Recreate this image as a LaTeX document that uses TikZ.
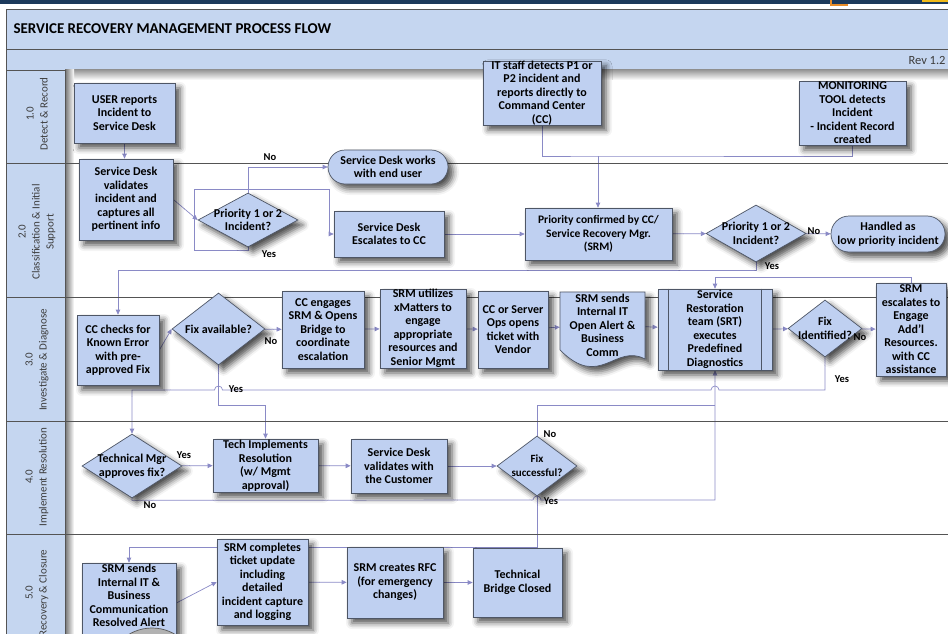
\documentclass[tikz,border=0pt]{standalone}
\usepackage{fontspec}
\setmainfont{Carlito}
\usetikzlibrary{positioning,arrows.meta,calc,shapes.geometric,shadows.blur}
\definecolor{boxblue}{RGB}{191,208,241}
\definecolor{headblue}{RGB}{197,214,240}
\definecolor{boxedge}{RGB}{78,86,102}
\definecolor{flowline}{RGB}{138,138,198}
\definecolor{laneline}{RGB}{84,84,84}
\definecolor{lanetext}{RGB}{60,60,60}
\definecolor{topband}{RGB}{28,58,92}
\definecolor{logoorange}{RGB}{232,140,40}
\newcommand{\boxfont}{\bfseries\fontsize{12}{13.5}\selectfont}
\newcommand{\ansfont}{\bfseries\fontsize{10.5}{12}\selectfont}
\newcommand{\lanefont}{\fontsize{11}{14}\selectfont}
\pgfdeclarelayer{links}
\pgfsetlayers{links,main}

\begin{document}
\begin{tikzpicture}[x=1pt,y=-1pt,
  plain/.style={font=\boxfont, align=center, inner sep=0pt},
  proc/.style={plain, draw=boxedge, fill=boxblue, line width=0.7pt,
    blur shadow={shadow xshift=5pt, shadow yshift=-5pt, shadow blur radius=6pt, shadow opacity=70}},
  term/.style={proc, rounded corners=#1},
  decision/.style={proc, diamond, inner sep=-20pt},
  flow/.style={draw=flowline, line width=0.7pt, -{Triangle[length=5pt,width=4.5pt]}},
  link/.style={draw=flowline, line width=0.7pt},
  ans/.style={font=\ansfont, inner sep=1pt},
  lanecell/.style={draw=laneline, fill=headblue, line width=0.7pt},
  lanelabel/.style={font=\lanefont, text=lanetext, align=center, rotate=90}]
\useasboundingbox (0,0) rectangle (948,634);

% Lanes
\fill[topband] (0,0) rectangle (948,4);
\draw[logoorange, line width=2pt] (831,0) -- (831,5) -- (848,5);
\fill[logoorange!60!yellow] (922,0) rectangle (948,2.5);
\draw[lanecell] (6,9) rectangle (952,49);
\draw[lanecell] (6,49) rectangle (952,70);
\node[anchor=west, font=\bfseries\fontsize{15}{17}\selectfont] (title) at (10,29) {SERVICE RECOVERY MANAGEMENT PROCESS FLOW};
\node[anchor=west, font=\fontsize{12.5}{14}\selectfont, text=lanetext] (rev) at (905,60) {Rev 1.2};
\shade[top color=black!40, bottom color=white] (65,70) rectangle (948,80);
\shade[left color=black!55, right color=white] (65,70) rectangle (74,634);
\foreach \top/\bot in {70/163,163/297,297/421,421/534,534/640}
  \draw[lanecell] (6,\top) rectangle (65,\bot);
\foreach \y in {163,297,421,534}
  \draw[laneline, line width=0.8pt] (65,\y) -- (948,\y);
\begin{scope}
\clip (6,70) rectangle (65,163);
\node[lanelabel] (lane1) at (37,114) {1.0\\Detect \& Record};
\end{scope}
\begin{scope}
\clip (6,163) rectangle (65,297);
\node[lanelabel] (lane2) at (37,232) {2.0\\Classification \& Initial\\Support};
\end{scope}
\begin{scope}
\clip (6,297) rectangle (65,421);
\node[lanelabel] (lane3) at (37,360) {3.0\\Investigate \& Diagnose};
\end{scope}
\begin{scope}
\clip (6,421) rectangle (65,534);
\node[lanelabel] (lane4) at (37,477) {4.0\\Implement Resolution};
\end{scope}
\begin{scope}
\clip (6,534) rectangle (65,634);
\node[lanelabel] (lane5) at (37,593) {5.0\\Recovery \& Closure};
\end{scope}

% Detect & Record
\node[proc, minimum width=101pt, minimum height=60pt] (user) at (124.5,113) {USER reports\\Incident to\\Service Desk};
\node[proc, minimum width=118pt, minimum height=64pt] (itstaff) at (542,93) {IT staff detects P1 or\\P2 incident and\\reports directly to\\Command Center\\(CC)};
\node[proc, minimum width=107pt, minimum height=64pt] (montool) at (852.5,113) {MONITORING\\TOOL detects\\Incident\\- Incident Record\\created};

% Classification & Initial Support
\node[proc, minimum width=94pt, minimum height=81pt] (sdval) at (126,199.5) {Service Desk\\validates\\incident and\\captures all\\pertinent info};
\node[decision, minimum width=100pt, minimum height=54pt] (prio1) at (248,220) {Priority 1 or 2\\Incident?};
\node[term=17pt, minimum width=120pt, minimum height=34pt] (sdworks) at (388,167) {Service Desk works\\with end user};
\node[proc, minimum width=110pt, minimum height=46pt] (sdesc) at (389,234) {Service Desk\\Escalates to CC};
\node[proc, minimum width=147pt, minimum height=52pt, font=\bfseries\fontsize{11.5}{13.5}\selectfont] (prioconf) at (598.5,234) {Priority confirmed by CC/\\Service Recovery Mgr.\\(SRM)};
\node[decision, minimum width=100pt, minimum height=57pt] (prio2) at (756,233.5) {Priority 1 or 2\\Incident?};
\node[term=18pt, minimum width=114pt, minimum height=36pt] (lowprio) at (888,234) {Handled as\\low priority incident};

% Investigate & Diagnose
\node[proc, minimum width=82pt, minimum height=70pt] (cccheck) at (118,350) {CC checks for\\Known Error\\with pre-\\approved Fix};
\node[decision, minimum width=93pt, minimum height=72pt] (fixavail) at (218.5,329) {Fix available?};
\node[proc, minimum width=82pt, minimum height=77pt] (ccengage) at (323,329.5) {CC engages\\SRM \& Opens\\Bridge to\\coordinate\\escalation};
\node[proc, minimum width=86pt, minimum height=79pt] (srmxm) at (423,328.5) {SRM utilizes\\xMatters to\\engage\\appropriate\\resources and\\Senior Mgmt};
\node[proc, minimum width=70pt, minimum height=77pt] (ccserver) at (513,329.5) {CC or Server\\Ops opens\\ticket with\\Vendor};
\coordinate (docc) at (602.5,330);
\draw[draw=boxedge, fill=boxblue, line width=0.7pt,
    blur shadow={shadow xshift=5pt, shadow yshift=-5pt, shadow blur radius=6pt, shadow opacity=70}]
  ($(docc)+(-42.5,-38)$) -- ($(docc)+(42.5,-38)$) -- ($(docc)+(42.5,29)$)
  .. controls ($(docc)+(12.5,13)$) and ($(docc)+(-2.5,60)$) .. ($(docc)+(-42.5,20)$) -- cycle;
\node[plain, minimum width=85pt, minimum height=76pt] (srmsends) at (602.5,325) {SRM sends\\Internal IT\\Open Alert \&\\Business\\Comm};
\node[proc, minimum width=114pt, minimum height=81pt] (srt) at (715,329.5) {Service\\Restoration\\team (SRT)\\executes\\Predefined\\Diagnostics};
\draw[boxedge, line width=0.7pt] ([xshift=11pt]srt.north west) -- ([xshift=11pt]srt.south west);
\draw[boxedge, line width=0.7pt] ([xshift=-11pt]srt.north east) -- ([xshift=-11pt]srt.south east);
\node[decision, minimum width=74pt, minimum height=57pt] (fixid) at (825,328.5) {Fix\\Identified?};
\node[proc, minimum width=70pt, minimum height=93pt] (srmesc) at (911,329.5) {SRM\\escalates to\\Engage\\Add’l\\Resources.\\with CC\\assistance};

% Implement Resolution
\node[decision, minimum width=100pt, minimum height=64pt] (techmgr) at (132,466) {Technical Mgr\\approves fix?};
\node[proc, minimum width=105pt, minimum height=53pt] (techimpl) at (265.5,465.5) {Tech Implements\\Resolution\\(w/ Mgmt\\approval)};
\node[proc, minimum width=96pt, minimum height=54pt] (sdcust) at (399,466) {Service Desk\\validates with\\the Customer};
\node[decision, minimum width=80pt, minimum height=60pt, font=\bfseries\fontsize{11}{14}\selectfont] (fixsucc) at (537,466) {Fix\\successful?};

% Recovery & Closure
\node[proc, minimum width=94pt, minimum height=80pt] (srmres) at (129,603) {};
\node[plain] (srmrestext) at (129,595.5) {SRM sends\\Internal IT \&\\Business\\Communication\\Resolved Alert};
\fill[gray!60, draw=gray!70!black, line width=0.7pt] (152,673) circle (45pt);
\node[proc, minimum width=91pt, minimum height=86pt] (srmcomp) at (262.5,582) {SRM completes\\ticket update\\including\\detailed\\incident capture\\and logging};
\node[proc, minimum width=96pt, minimum height=71pt] (srmrfc) at (395,582.5) {SRM creates RFC\\(for emergency\\changes)};
\node[proc, minimum width=89pt, minimum height=69pt] (techbridge) at (517.5,582.5) {Technical\\Bridge Closed};

% Answers
\node[ans] (no1) at (270,157) {No};
\node[ans] (yes1) at (269,254) {Yes};
\node[ans] (no2) at (814,231) {No};
\node[ans] (yes2) at (772,266) {Yes};
\node[ans] (no3) at (271,341) {No};
\node[ans] (yes3) at (236,389) {Yes};
\node[ans] (no4) at (860,337) {No};
\node[ans] (yes4) at (842,379) {Yes};
\node[ans] (yes5) at (184,455) {Yes};
\node[ans] (no5) at (150,505) {No};
\node[ans] (no6) at (550,434) {No};
\node[ans] (yes6) at (551,501) {Yes};

% Connectors
\coordinate (loopL) at (194,189);
\coordinate (ccjoin) at (598,156);
\coordinate (yesrow) at (0,390);
\coordinate (retrow) at (0,405);
\coordinate (norow) at (0,500);
\coordinate (closerow) at (0,547);
\begin{pgfonlayer}{links}
\draw[flow] (user.south) -- (user.south |- sdval.north);
\draw[flow] (sdval.east) -- (prio1.west);
\draw[flow] (prio1.north) |- (sdworks.west);
\draw[flow] (prio1.south) -- ++(0,3) -| (loopL) -| ($(sdesc.west)+(-4,0)$) -- (sdesc.west);
\draw[flow] (sdesc) -- (prioconf);
\draw[link] (itstaff.south) |- (ccjoin) -| (montool.south);
\draw[flow] (ccjoin) -- (ccjoin |- prioconf.north);
\draw[flow] (prioconf) -- (prio2);
\draw[flow] (prio2) -- (lowprio);
\draw[flow] (prio2.south) -- ++(0,8) -| (cccheck.north);
\draw[flow] (srmesc.north) -- ++(0,-5) -| (srt.north);
\draw[flow] (cccheck.east) -- (fixavail.west);
\draw[flow] (fixavail) -- (ccengage);
\draw[flow] (ccengage) -- (srmxm);
\draw[flow] (srmxm) -- (ccserver);
\draw[flow] (ccserver) -- (srmsends);
\draw[flow] (srmsends) -- (srt);
\draw[flow] (srt) -- (fixid);
\draw[flow] (fixid) -- (srmesc);
\draw[flow] (fixavail.south) -- ++(0,40) -| (techimpl.north);
% hops over the two verticals
\draw[flow] (fixid.south) |- ($(srt.south |- yesrow)+(4,0)$)
  arc[start angle=0, end angle=180, radius=4pt] -- ($(fixavail.south |- yesrow)+(4,0)$)
  arc[start angle=0, end angle=180, radius=4pt] -| (techmgr.north);
\draw[flow] (techmgr) -- (techimpl);
\draw[flow] (techimpl) -- (sdcust);
\draw[flow] (sdcust) -- (fixsucc);
\draw[flow] (techmgr.south) -- ++(0,2) -- ($(fixsucc.south |- norow)+(-4,0)$)
  arc[start angle=180, end angle=0, radius=4pt] -| (srt.south);
\draw[link] (fixsucc.north) |- (retrow -| srt.south);
\draw[flow] (fixsucc.south) |- (closerow -| srmres.north) -- (srmres.north);
\draw[flow] (srmres.east) -- (srmcomp.west);
\draw[flow] (srmcomp) -- (srmrfc);
\draw[flow] (srmrfc) -- (techbridge);
\end{pgfonlayer}
\end{tikzpicture}
\end{document}
